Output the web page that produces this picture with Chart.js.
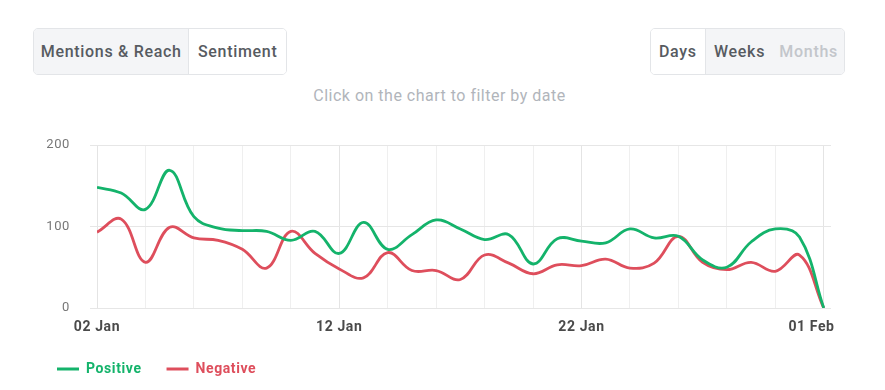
<!DOCTYPE html>
<html lang="en">
<head>
  <meta charset="UTF-8">
  <title>Sentiment</title>
  <script src="https://cdn.jsdelivr.net/npm/chart.js"></script>
  <style>
    body {
      margin: 0;
      width: 885px;
      height: 390px;
      overflow: hidden;
      background: #fff;
      font-family: 'Roboto', sans-serif;
      position: relative;
    }
    .group {
      position: absolute;
      top: 28px;
      height: 45px;
      display: flex;
      border: 1px solid #e3e5e8;
      border-radius: 5px;
      overflow: hidden;
    }
    .group div {
      display: flex;
      align-items: center;
      justify-content: center;
      font-size: 16px;
      letter-spacing: 0.7px;
      font-weight: 500;
      color: #575b61;
      background: #f4f5f7;
    }
    .group div.active { background: #fff; }
    .group div.off { color: #c3c6cb; }
    #left { left: 33px; width: 252px; }
    #right { left: 650px; width: 193px; }
    #subtitle {
      position: absolute;
      top: 86px;
      left: 0;
      width: 879px;
      text-align: center;
      font-size: 16px;
      letter-spacing: 0.5px;
      color: #b1b5bb;
    }
    #wrap {
      position: absolute;
      left: 0;
      top: 125px;
      width: 885px;
      height: 261px;
    }
  </style>
</head>
<body>
  <div class="group" id="left">
    <div style="width:155px">Mentions &amp; Reach</div>
    <div class="active" style="width:97px;border-left:1px solid #e3e5e8">Sentiment</div>
  </div>
  <div class="group" id="right">
    <div class="active" style="width:54px;border-right:1px solid #e3e5e8">Days</div>
    <div style="width:68px">Weeks</div>
    <div class="off" style="width:71px">Months</div>
  </div>
  <div id="subtitle">Click on the chart to filter by date</div>
  <div id="wrap"><canvas id="chart"></canvas></div>
  <script>
    const dates = [
      '02 Jan', '03 Jan', '04 Jan', '05 Jan', '06 Jan', '07 Jan', '08 Jan', '09 Jan',
      '10 Jan', '11 Jan', '12 Jan', '13 Jan', '14 Jan', '15 Jan', '16 Jan', '17 Jan',
      '18 Jan', '19 Jan', '20 Jan', '21 Jan', '22 Jan', '23 Jan', '24 Jan', '25 Jan',
      '26 Jan', '27 Jan', '28 Jan', '29 Jan', '30 Jan', '31 Jan', '01 Feb'
    ];
    const positive = [148, 141, 121, 169, 112, 98, 95, 94, 83, 94, 67, 105, 72, 90, 108, 97,
      84, 90, 54, 85, 82, 80, 97, 86, 88, 59, 50, 81, 97, 87, 0];
    const negative = [93, 109, 56, 99, 86, 83, 72, 49, 94, 67, 48, 37, 68, 46, 46, 35,
      65, 55, 42, 53, 52, 60, 49, 55, 88, 56, 47, 56, 45, 65, 0];
    const yTicks = [0, 100, 200];

    const green = '#14b36b';
    const red = '#de4e5c';

    // the original's canvas text is a bit wider than plain Roboto
    const spacing = {
      id: 'spacing',
      beforeUpdate: c => { c.ctx.letterSpacing = '0.6px'; },
      beforeDraw: c => { c.ctx.letterSpacing = '0.6px'; }
    };

    const ctx = document.getElementById('chart').getContext('2d');
    new Chart(ctx, {
      type: 'line',
      plugins: [spacing],
      data: {
        datasets: [
          {
            label: 'Positive',
            data: positive.map((v, i) => ({ x: i, y: v })),
            borderColor: green,
            backgroundColor: green,
            borderWidth: 2.8,
            tension: 0.4,
            pointRadius: 0
          },
          {
            label: 'Negative',
            data: negative.map((v, i) => ({ x: i, y: v })),
            borderColor: red,
            backgroundColor: red,
            borderWidth: 2.8,
            tension: 0.4,
            pointRadius: 0
          }
        ]
      },
      options: {
        responsive: true,
        maintainAspectRatio: false,
        animation: false,
        layout: { padding: { left: 32, right: 54, top: 20, bottom: 0 } },
        scales: {
          x: {
            type: 'linear',
            min: 0,
            max: 30.3,
            border: { display: false },
            grid: {
              drawTicks: false,
              color: c => {
                const v = c.tick.value;
                if (v % 10 === 0) return '#e4e4e4';
                if (v % 2 === 0) return '#efefef';
                return 'rgba(0,0,0,0)';
              }
            },
            ticks: {
              stepSize: 1,
              autoSkip: false,
              includeBounds: false,
              maxRotation: 0,
              padding: 11,
              color: '#4a4a4a',
              font: { family: 'Roboto', size: 14, weight: 'bold' },
              callback: v => {
                if (v % 10 !== 0) return '';
                // last label sits against the right edge in the original
                return v === dates.length - 1 ? dates[v] + '      ' : dates[v];
              }
            },
            afterFit: s => { s.height = 29; }
          },
          y: {
            min: 0,
            max: 200,
            border: { display: false },
            grid: { color: '#e6e6e6', tickLength: 7 },
            afterBuildTicks: s => { s.ticks = yTicks.map(v => ({ value: v })); },
            ticks: {
              padding: 20,
              color: '#777',
              font: { family: 'Roboto', size: 13 }
            },
            afterFit: s => {
              s.width = 65;
              s.paddingTop = 8;
              s.paddingBottom = 8;
            }
          }
        },
        plugins: {
          tooltip: { enabled: false },
          legend: {
            position: 'bottom',
            align: 'start',
            labels: {
              boxWidth: 22,
              boxHeight: 3,
              padding: 25,
              font: { family: 'Roboto', size: 14, weight: 'bold' },
              generateLabels: chart => {
                return Chart.defaults.plugins.legend.labels.generateLabels(chart).map(item => {
                  const ds = chart.data.datasets[item.datasetIndex];
                  item.fillStyle = ds.borderColor;
                  item.fontColor = ds.borderColor;
                  item.lineWidth = 0;
                  return item;
                });
              }
            }
          }
        }
      }
    });
  </script>
</body>
</html>
